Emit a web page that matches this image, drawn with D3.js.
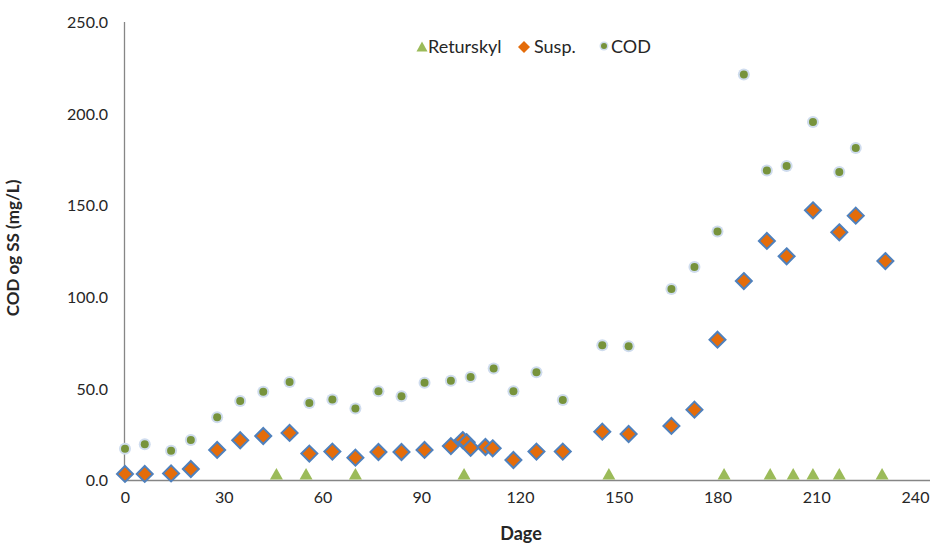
<!DOCTYPE html>
<html>
<head>
<meta charset="utf-8">
<script src="https://cdn.jsdelivr.net/npm/d3@7"></script>
<style>
  html, body { margin: 0; padding: 0; background: #fff; }
  svg text { font-family: Lato, "Open Sans", "Liberation Sans", sans-serif; fill: #262626; }
</style>
</head>
<body>
<svg id="chart" width="931" height="546"></svg>
<script>
// ---- data ----
const retDays  = [46, 55, 70, 103, 147, 182, 196, 203, 209, 217, 230];
const retVals  = [3, 3, 3, 3, 3, 3, 3, 3, 3, 3, 3];

const suspDays = [0, 6, 14, 20, 28, 35, 42, 50, 56, 63, 70, 77, 84, 91, 99, 102.6, 103.8, 105, 109.5, 111.7, 118, 125, 133, 145, 153, 166, 173, 180, 188, 195, 201, 209, 217, 222, 231];
const suspVals = [3.3, 3.3, 3.6, 6.0, 16.4, 21.7, 24.0, 25.7, 14.4, 15.5, 12.2, 15.3, 15.3, 16.4, 18.5, 21.8, 20.6, 17.6, 18.0, 17.3, 10.9, 15.5, 15.5, 26.4, 25.1, 29.5, 38.4, 76.6, 108.6, 130.5, 122.1, 147.2, 135.2, 144.3, 119.5];

const codDays  = [0, 6, 14, 20, 28, 35, 42, 50, 56, 63, 70, 77, 84, 91, 99, 105, 112, 118, 125, 133, 145, 153, 166, 173, 180, 188, 195, 201, 209, 217, 222];
const codVals  = [17.0, 19.5, 16.0, 21.8, 34.2, 43.1, 48.2, 53.5, 42.0, 44.0, 39.0, 48.4, 45.7, 53.1, 54.2, 56.2, 60.8, 48.4, 58.8, 43.7, 73.6, 73.0, 104.3, 116.3, 135.7, 221.4, 168.9, 171.4, 195.4, 168.1, 181.2];

const xTicks = [0, 30, 60, 90, 120, 150, 180, 210, 240];
const yTicks = [0, 50, 100, 150, 200, 250];
const legendLabels = ["Returskyl", "Susp.", "COD"];

// ---- layout ----
const svg = d3.select("#chart");
const x = d3.scaleLinear().domain([0, 240]).range([125, 915]);
const y = d3.scaleLinear().domain([0, 250]).range([480, 22]);
const axisColor = "#868686";

// axes
const xAxis = svg.append("g").attr("transform", "translate(0,480)")
  .call(d3.axisBottom(x).tickValues(xTicks).tickSize(0).tickPadding(12).tickFormat(d3.format("d")));
xAxis.select(".domain").attr("d", "M125,0.5H930").attr("stroke", axisColor).attr("stroke-width", 1.3);
xAxis.selectAll("text").style("font-size", "16px").attr("fill", "#262626");

const yAxis = svg.append("g").attr("transform", "translate(125,0)")
  .call(d3.axisLeft(y).tickValues(yTicks).tickSize(0).tickPadding(17).tickFormat(d3.format(".1f")));
yAxis.select(".domain").attr("d", "M-0.5,22V480").attr("stroke", axisColor).attr("stroke-width", 1.3);
yAxis.selectAll("text").style("font-size", "16px").attr("fill", "#262626").attr("dy", "0.35em");

// axis titles
svg.append("text").attr("x", 521).attr("y", 540).attr("text-anchor", "middle")
  .style("font-size", "18px").style("font-weight", "bold").text("Dage");
svg.append("text").attr("transform", "translate(19,248) rotate(-90)").attr("text-anchor", "middle")
  .style("font-size", "17px").style("font-weight", "bold").text("COD og SS (mg/L)");

// marker shapes
const triPath = "M0,-6.5L6.5,5L-6.5,5Z";
const diaPath = "M0,-8L8,0L0,8L-8,0Z";

// Returskyl
svg.append("g").selectAll("path").data(retDays).join("path")
  .attr("d", triPath)
  .attr("transform", (d, i) => `translate(${x(d)},${y(retVals[i])})`)
  .attr("fill", "#9bbb59");

// COD
const codG = svg.append("g");
codG.selectAll("circle.glow").data(codDays).join("circle").attr("class", "glow")
  .attr("cx", d => x(d)).attr("cy", (d, i) => y(codVals[i])).attr("r", 6)
  .attr("fill", "#cfdcee");
codG.selectAll("circle.dot").data(codDays).join("circle").attr("class", "dot")
  .attr("cx", d => x(d)).attr("cy", (d, i) => y(codVals[i])).attr("r", 4)
  .attr("fill", "#77933c");

// Susp.
svg.append("g").selectAll("path").data(suspDays).join("path")
  .attr("d", diaPath)
  .attr("transform", (d, i) => `translate(${x(d)},${y(suspVals[i])})`)
  .attr("fill", "#e46c0a").attr("stroke", "#4f81bd").attr("stroke-width", 2);

// legend
const lg = svg.append("g");
const lx = [422, 524, 604];
const tx = [428, 534, 611];
lg.append("path").attr("d", "M0,-5.5L5.5,4.5L-5.5,4.5Z").attr("transform", `translate(${lx[0]},47)`).attr("fill", "#9bbb59");
lg.append("path").attr("d", "M0,-6L6,0L0,6L-6,0Z").attr("transform", `translate(${lx[1]},47)`).attr("fill", "#e46c0a");
lg.append("circle").attr("cx", lx[2]).attr("cy", 46).attr("r", 4.5).attr("fill", "#cfdcee");
lg.append("circle").attr("cx", lx[2]).attr("cy", 46).attr("r", 3).attr("fill", "#77933c");
legendLabels.forEach((t, i) => {
  lg.append("text").attr("x", tx[i]).attr("y", 53).style("font-size", "18px").text(t);
});
</script>
</body>
</html>
